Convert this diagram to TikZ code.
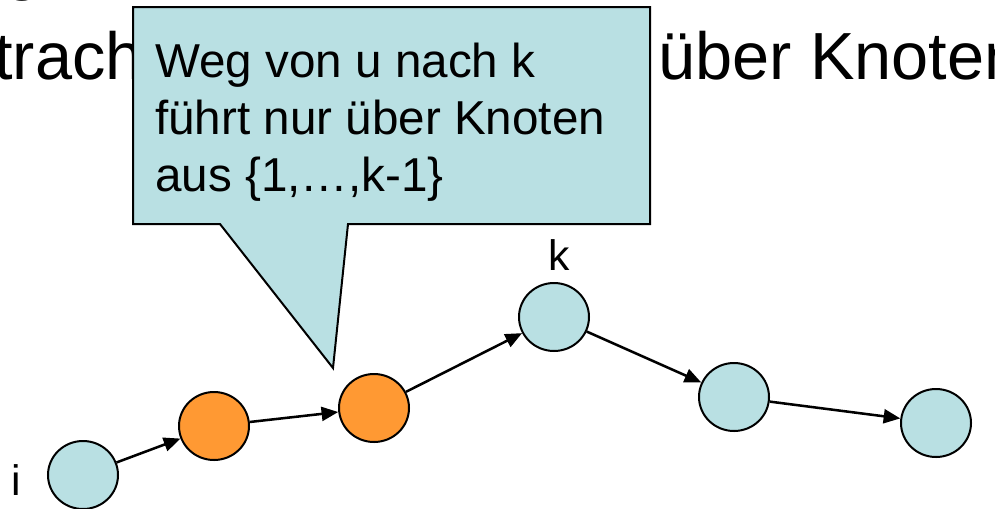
\documentclass[tikz,border=0pt]{standalone}
\usepackage{fontspec}
\setmainfont{Liberation Sans}
\usetikzlibrary{arrows.meta,shapes.geometric}
\definecolor{nodeblue}{RGB}{185,224,227}
\definecolor{nodeorange}{RGB}{255,153,51}
\tikzset{
  vertex/.style={ellipse,draw=black,line width=1.5pt,minimum width=52.5pt,minimum height=51pt,inner sep=0pt},
  bluev/.style={vertex,fill=nodeblue},
  orangev/.style={vertex,fill=nodeorange},
  arr/.style={line width=1.9pt,-{Triangle[length=12.5pt,width=10.5pt]}},
  bgtext/.style={font=\fontsize{50}{60}\selectfont,inner sep=0pt},
  calltext/.style={font=\fontsize{35.7}{43}\selectfont,inner sep=0pt,anchor=base west},
  lbl/.style={font=\fontsize{32}{38}\selectfont,inner sep=0pt,anchor=base}
}
\begin{document}
\begin{tikzpicture}[x=0.75pt,y=-0.75pt]
\useasboundingbox (0,0) rectangle (995,508);
\clip (0,0) rectangle (995,508);
% background slide text
\node[bgtext,anchor=base west] (gfrag) at (4,-13) {g};
\node[bgtext,anchor=base west] (trach) at (-6,79) {trach};
\node[bgtext,anchor=base west] (ueber) at (658,79) {über Knoten};
% callout
\draw[fill=nodeblue,line width=1.5pt,line join=miter]
  (133,7) -- (650,7) -- (650,224) -- (348,224) -- (333,368) -- (220,224) -- (133,224) -- cycle;
\node[calltext] (l1) at (155,77) {Weg von u nach k};
\node[calltext] (l2) at (155,134) {führt nur über Knoten};
\node[calltext] (l3) at (155,191) {aus \{1,…,k-1\}};
% nodes
\node[bluev] (i) at (83,475) {};
\node[orangev] (o1) at (214,426) {};
\node[orangev] (o2) at (374,408) {};
\node[bluev] (k) at (554,317) {};
\node[bluev] (n5) at (734,397) {};
\node[bluev] (n6) at (936,423) {};
% labels
\node[lbl] (ilbl) at (16,495) {i};
\node[lbl] (klbl) at (559,270) {k};
% edges
\draw[arr] (i) -- (o1);
\draw[arr] (o1) -- (o2);
\draw[arr] (o2) -- (k);
\draw[arr] (k) -- (n5);
\draw[arr] (n5) -- (n6);
\end{tikzpicture}
\end{document}
